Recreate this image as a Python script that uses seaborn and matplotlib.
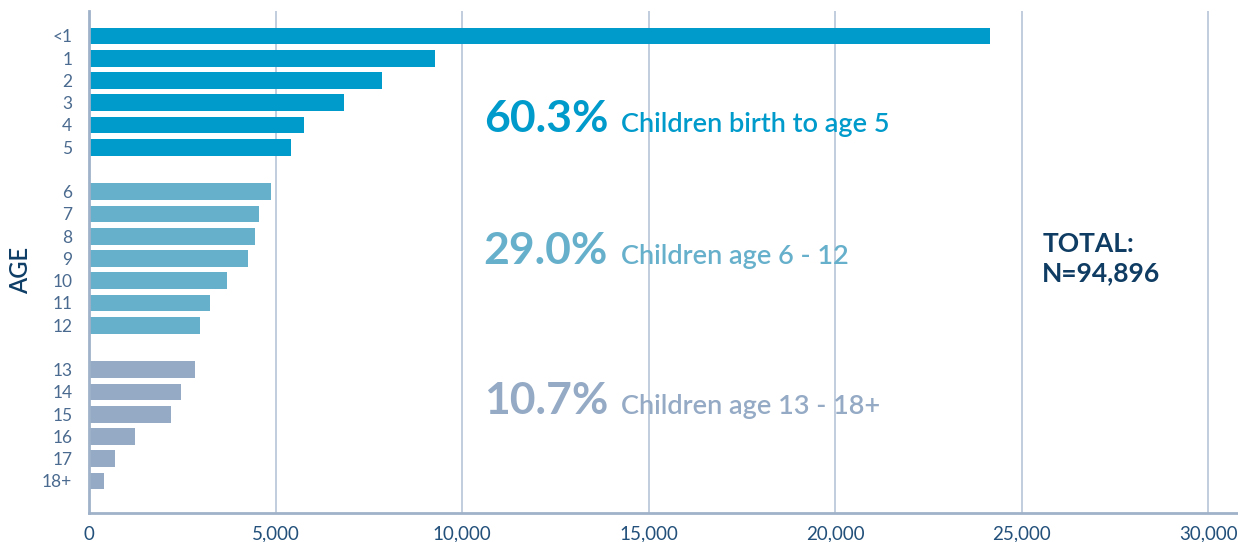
import matplotlib
matplotlib.use("Agg")
import matplotlib.pyplot as plt
import seaborn as sns
import pandas as pd

# ---- data ----
ages_young = ["<1", "1", "2", "3", "4", "5"]
counts_young = [24160, 9280, 7850, 6840, 5760, 5420]
ages_mid = ["6", "7", "8", "9", "10", "11", "12"]
counts_mid = [4880, 4560, 4450, 4260, 3700, 3240, 2980]
ages_teen = ["13", "14", "15", "16", "17", "18+"]
counts_teen = [2840, 2470, 2200, 1230, 700, 400]

group_names = ["Children birth to age 5", "Children age 6 - 12", "Children age 13 - 18+"]
group_pcts = ["60.3%", "29.0%", "10.7%"]
group_colors = ["#009ACB", "#67B0CC", "#94AAC5"]
total_label = "TOTAL:\nN=94,896"
x_ticks = [0, 5000, 10000, 15000, 20000, 25000, 30000]

df = pd.DataFrame({
    "age": ages_young + ages_mid + ages_teen,
    "count": counts_young + counts_mid + counts_teen,
    "group": [group_names[0]] * len(ages_young)
             + [group_names[1]] * len(ages_mid)
             + [group_names[2]] * len(ages_teen),
})
order = ages_young + [" "] + ages_mid + ["  "] + ages_teen

sns.set_theme(style="white")
plt.rcParams["font.family"] = ["Lato", "DejaVu Sans"]

fig = plt.figure(figsize=(12.38, 5.42), dpi=100)
ax = fig.add_axes([89 / 1238, 29 / 542, (1238 - 89) / 1238, (513 - 11) / 542])

sns.barplot(data=df, x="count", y="age", order=order, hue="group",
            hue_order=group_names, palette=group_colors, dodge=False,
            width=0.75, legend=False, ax=ax, saturation=1, linewidth=0)

ax.set_xlim(0, 30800)
ax.set_ylim(21.44, -1.12)
ax.set_xticks(x_ticks)
ax.set_xticklabels([f"{v:,}" for v in x_ticks])
ax.grid(axis="x", color="#BCC9DA", linewidth=1.3)
ax.set_axisbelow(True)
for s in ["top", "right"]:
    ax.spines[s].set_visible(False)
for s in ["left", "bottom"]:
    ax.spines[s].set_color("#9FB2C9")
    ax.spines[s].set_linewidth(2)

ax.tick_params(axis="both", length=0)
ax.tick_params(axis="y", pad=12, labelsize=12.5, labelcolor="#4A6A8F")
ax.tick_params(axis="x", pad=9, labelsize=13.5, labelcolor="#22507A")
for lab in ax.get_yticklabels() + ax.get_xticklabels():
    lab.set_fontweight("normal")

ax.set_xlabel("")
ax.set_ylabel("AGE", fontsize=17, color="#0E3D66", fontweight="semibold")
ax.yaxis.label.set_verticalalignment("center")
ax.yaxis.set_label_coords(-0.060, 0.484)

# group annotations
ys = [4.30, 10.25, 16.99]
for pct, name, col, y in zip(group_pcts, group_names, group_colors, ys):
    t = ax.text(10580, y, pct, fontsize=32, fontweight="bold", color=col,
                va="baseline", ha="left")
    ax.annotate(name, xy=(1, y), xycoords=(t, "data"), xytext=(9, 0),
                textcoords="offset points", fontsize=19.5, fontweight="semibold",
                color=col, va="baseline", ha="left")

ax.text(25550, 11.0, total_label, fontsize=19, fontweight="bold",
        color="#0F3C63", va="baseline", ha="left", linespacing=1.25)

fig.savefig("out.png", dpi=100)
